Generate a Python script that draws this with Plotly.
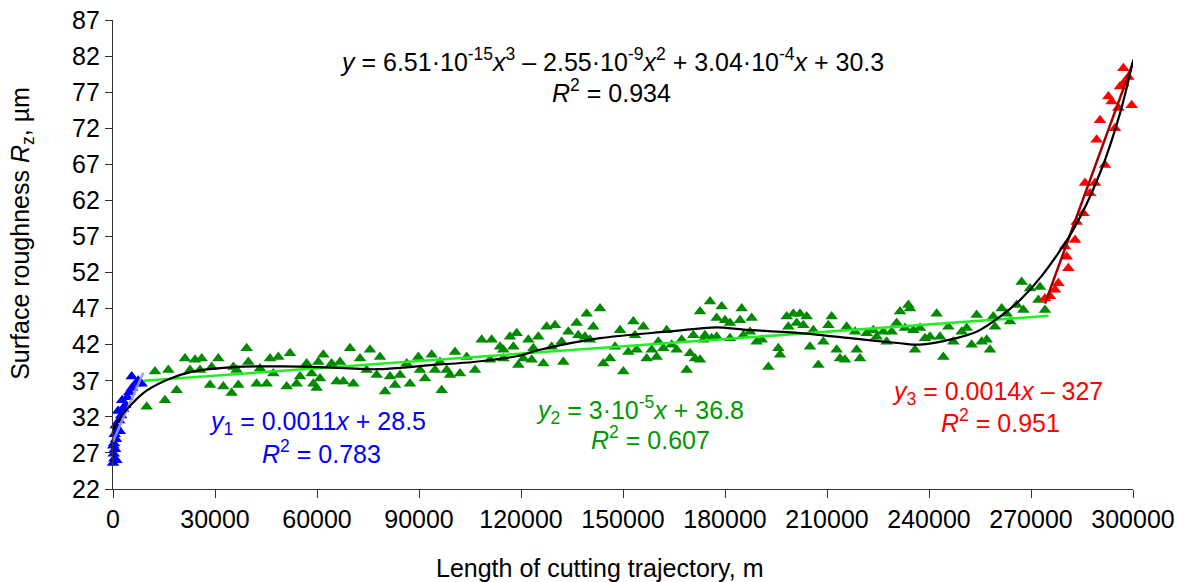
import plotly.graph_objects as go

# ---------------- data ----------------
blue_x = [0, 400, 200, 600, 300, 900, 500, 1300, 800, 1800, 2400, 1500, 3000, 3600, 2700,
          4200, 4800, 5600, 5500, 6600, 7400, 8400, 1000, 100, 2000]
blue_y = [25.6, 26.2, 26.9, 27.5, 28.3, 28.9, 29.6, 30.2, 30.8, 31.5, 32.2, 32.8, 33.1, 33.6, 34.3,
          34.7, 35.4, 36.0, 37.6, 36.6, 37.0, 36.6, 26.0, 28.0, 30.0]

green_x = [9900, 12350, 16270, 15290, 18730, 21180, 24120, 26080, 28530, 30980, 32450, 34900, 36860,
           39310, 39800, 42250, 45200, 46180, 48630, 52060, 51080, 54020, 55000, 56960, 58920, 60390,
           22650, 25590, 29020, 36370, 43240, 47160, 35390,
           59900, 58430, 60880, 61860, 64310, 65790, 66760, 69710, 70690, 67740, 72650, 75590, 78530,
           74610, 77550, 80000, 81470, 82940, 84410, 86370, 87350, 89800, 91760, 93730, 94710, 96670,
           98140, 100590, 99120, 102060, 104020, 106470, 108430, 111370, 113820, 116760, 118730, 117750,
           110880, 114800, 119220, 96180, 90290,
           114800, 120690, 122160, 123630, 125100, 123140, 126570, 127550, 130000, 129020, 131960,
           132450, 133920, 136370, 139310, 136860, 138820, 141270, 143240, 140290, 144210, 146180,
           147650, 149120, 150100, 151570, 153040, 154020, 155980, 156960, 158430, 159900, 161860,
           162840, 164310, 165790, 167250, 168730, 169710, 171180, 172650, 170690, 173630, 175590,
           177550, 176080, 153530, 160390,
           179020, 180000, 181470, 184410, 184900, 187840, 174120, 177550, 181470, 185390, 187350,
           189310, 192750, 195690, 196180, 190790, 198140, 200100, 202060, 204020, 201080, 198630,
           203040, 205980, 205000, 207450, 208920, 210390, 211370, 212840, 213820, 215290, 215780,
           218730, 219710, 218240, 221670, 223630, 224610, 226570, 227550, 229020, 231470, 233920,
           234410, 230490, 232940, 235390, 235880, 172650,
           242250, 237350, 238820, 240290, 243240, 244210, 245690, 247160, 249610, 251080, 252550,
           254020, 255490, 256960, 257940, 259410, 261370, 263820, 262840, 265780, 267750, 267250,
           269710, 272650, 272160, 274120, 258920]
green_y = [33.4, 38.3, 38.5, 34.3, 35.7, 40.1, 39.9, 40.1, 36.4, 40.1, 36.2, 35.3, 36.4,
           41.5, 39.6, 36.6, 36.6, 40.1, 40.3, 40.8, 36.2, 36.6, 37.6, 39.4, 36.6, 39.6,
           38.5, 38.5, 38.9, 38.5, 38.7, 38.0, 38.9,
           36.0, 38.0, 37.3, 40.6, 39.4, 36.9, 39.6, 41.5, 36.6, 36.9, 40.1, 41.3, 40.3,
           38.5, 37.8, 35.5, 37.6, 36.4, 37.8, 39.4, 36.6, 40.3, 37.3, 40.6, 38.5, 35.7,
           38.5, 41.0, 37.8, 38.0, 40.3, 38.5, 42.7, 42.7, 41.7, 43.1, 43.6, 41.7,
           39.9, 40.1, 39.2, 39.6, 38.5,
           41.3, 40.1, 42.7, 41.5, 43.1, 39.9, 39.4, 44.5, 44.7, 41.7, 42.4,
           39.6, 43.8, 45.0, 46.3, 43.3, 43.1, 44.5, 47.0, 42.7, 39.4, 40.1,
           41.7, 44.0, 38.3, 41.0, 45.2, 41.3, 44.5, 40.1, 41.3, 40.3, 41.5,
           44.0, 42.0, 41.3, 42.7, 38.5, 40.8, 40.1, 46.6, 43.3, 42.7, 48.0,
           45.7, 42.9, 43.3, 42.4,
           47.3, 45.4, 45.0, 45.4, 47.0, 45.7, 43.3, 43.1, 42.9, 43.3, 43.8,
           42.4, 38.9, 41.5, 40.6, 42.7, 45.9, 46.3, 46.3, 45.9, 45.0, 44.5,
           44.7, 44.0, 41.7, 39.2, 42.4, 44.7, 45.9, 41.3, 40.1, 39.9, 44.5,
           41.3, 40.1, 43.8, 43.6, 44.0, 43.1, 43.8, 42.4, 43.8, 46.6, 47.5,
           47.0, 45.0, 44.3, 44.0, 41.3, 39.9,
           46.3, 44.3, 42.9, 43.1, 43.1, 40.3, 44.5, 42.4, 43.8, 44.3, 42.0,
           46.1, 42.4, 42.7, 41.3, 44.5, 47.0, 45.2, 46.3, 47.5, 46.8, 50.7,
           49.8, 50.0, 48.2, 46.8, 45.9]

red_x = [274120, 275590, 277060, 278040, 280980, 280490, 280000, 282940, 283430, 285390, 287350,
         285880, 288820, 291760, 289310, 294710, 290290, 299610, 295690, 293730, 292750, 296180,
         297160, 298630, 297160, 300100]
red_y = [48.4, 48.7, 49.6, 50.5, 52.6, 54.2, 55.6, 56.5, 59.0, 60.2, 63.0,
         64.4, 64.4, 66.9, 70.4, 72.0, 73.1, 75.2, 74.8, 75.7, 76.4, 77.8,
         78.2, 79.1, 80.3, 80.3]

# smoothed black curve
curve_x = [0, 2000, 4000, 8900, 15800, 23600, 35400, 50100, 60900, 77500, 94200, 106000, 118700,
           125600, 143200, 162800, 177500, 185400, 202100, 216800, 231500, 237400, 246200, 254000,
           260900, 266800, 273100, 282400, 290300, 296200, 300100]
curve_y = [30.2, 31.8, 33.0, 35.3, 37.1, 38.3, 38.9, 39.0, 38.9, 38.6, 39.2, 39.6, 40.4,
           41.3, 42.9, 43.8, 44.4, 44.1, 43.6, 42.9, 42.2, 42.0, 42.7, 43.8,
           45.9, 48.2, 51.5, 57.9, 65.8, 74.1, 81.5]

# linear trend lines (end points)
fit1_x = [0, 8900]
fit1_y = [28.6, 38.1]
fit2_x = [8900, 275100]
fit2_y = [37.0, 46.0]
fit3_x = [274100, 300600]
fit3_y = [47.7, 81.9]

x_ticks = list(range(0, 300001, 30000))
y_ticks = list(range(22, 88, 5))

FONT = "Liberation Sans, Arial, sans-serif"
FS = 25
BLUE = "#0000ff"
GREEN = "#008a00"
RED = "#ff0000"

fig = go.Figure()

def pts(x, y, c):
    fig.add_trace(go.Scatter(x=x, y=y, mode="markers", cliponaxis=False,
                             marker=dict(symbol="triangle-up", size=11, color=c, line=dict(width=0)),
                             showlegend=False, hoverinfo="skip"))

pts(green_x, green_y, GREEN)
pts(red_x, red_y, RED)
pts(blue_x, blue_y, BLUE)

fig.add_trace(go.Scatter(x=fit1_x, y=fit1_y, mode="lines", line=dict(color="rgba(150,150,255,0.9)", width=2.5),
                         showlegend=False, hoverinfo="skip"))
fig.add_trace(go.Scatter(x=fit2_x, y=fit2_y, mode="lines", line=dict(color="#22ee22", width=2.5),
                         showlegend=False, hoverinfo="skip"))
fig.add_trace(go.Scatter(x=fit3_x, y=fit3_y, mode="lines", line=dict(color="#a00000", width=2.5),
                         showlegend=False, hoverinfo="skip"))
fig.add_trace(go.Scatter(x=curve_x, y=curve_y, mode="lines",
                         line=dict(color="black", width=2.2, shape="spline", smoothing=0.8),
                         showlegend=False, hoverinfo="skip", cliponaxis=False))

def ann(x, y, text, color):
    fig.add_annotation(x=x, y=y, xref="x", yref="y", text=text, showarrow=False,
                       font=dict(family=FONT, size=FS, color=color), xanchor="center", yanchor="middle")

ann(146760, 81.4, "<i>y</i> = 6.51·10<sup>-15</sup><i>x</i><sup>3</sup> – 2.55·10<sup>-9</sup><i>x</i><sup>2</sup>"
    " + 3.04·10<sup>-4</sup><i>x</i> + 30.3", "black")
ann(146760, 77.2, "<i>R</i><sup>2</sup> = 0.934", "black")
ann(60290, 31.15, "<i>y</i><sub>1</sub> = 0.0011<i>x</i> + 28.5", BLUE)
ann(61200, 27.1, "<i>R</i><sup>2</sup> = 0.783", BLUE)
ann(155000, 32.95, "<i>y</i><sub>2</sub> = 3·10<sup>-5</sup><i>x</i> + 36.8", "#009900")
ann(157940, 29.07, "<i>R</i><sup>2</sup> = 0.607", "#009900")
ann(260000, 35.3, "<i>y</i><sub>3</sub> = 0.0014<i>x</i> – 327", RED)
ann(261000, 31.4, "<i>R</i><sup>2</sup> = 0.951", RED)

# axis titles
fig.add_annotation(x=0.477, y=0, xref="paper", yref="paper", yshift=-79, showarrow=False,
                   text="Length of cutting trajectory, m", font=dict(family=FONT, size=FS, color="black"),
                   xanchor="center", yanchor="middle")
fig.add_annotation(x=0, y=0.544, xref="paper", yref="paper", xshift=-91, showarrow=False, textangle=-90,
                   text="Surface roughness <i>R</i><sub>z</sub>, µm", font=dict(family=FONT, size=FS, color="black"),
                   xanchor="center", yanchor="middle")

fig.update_layout(
    width=1184, height=582,
    margin=dict(l=113, r=51, t=20, b=93, autoexpand=False),
    paper_bgcolor="white", plot_bgcolor="white",
    font=dict(family=FONT, size=FS, color="black"),
    showlegend=False,
)
fig.update_xaxes(range=[0, 300000], tickvals=x_ticks, ticktext=[str(v) for v in x_ticks],
                 showgrid=False, zeroline=False, showline=True, linecolor="#333333", linewidth=1.2,
                 ticks="outside", ticklen=8, tickcolor="#333333", tickfont=dict(size=FS),
                 automargin=False, ticklabeloverflow="allow")
fig.update_yaxes(range=[22, 87], tickvals=y_ticks, ticktext=[str(v) for v in y_ticks],
                 showgrid=False, zeroline=False, showline=True, linecolor="#333333", linewidth=1.2,
                 ticks="outside", ticklen=7, tickcolor="#333333", tickfont=dict(size=FS),
                 automargin=False, ticklabeloverflow="allow")

# remove the browser's default 8px body margin so the figure fills the window exactly
fig.write_html("out.html", config={"displayModeBar": False},
               post_script="document.body.style.margin='0';document.body.style.overflow='hidden';")
